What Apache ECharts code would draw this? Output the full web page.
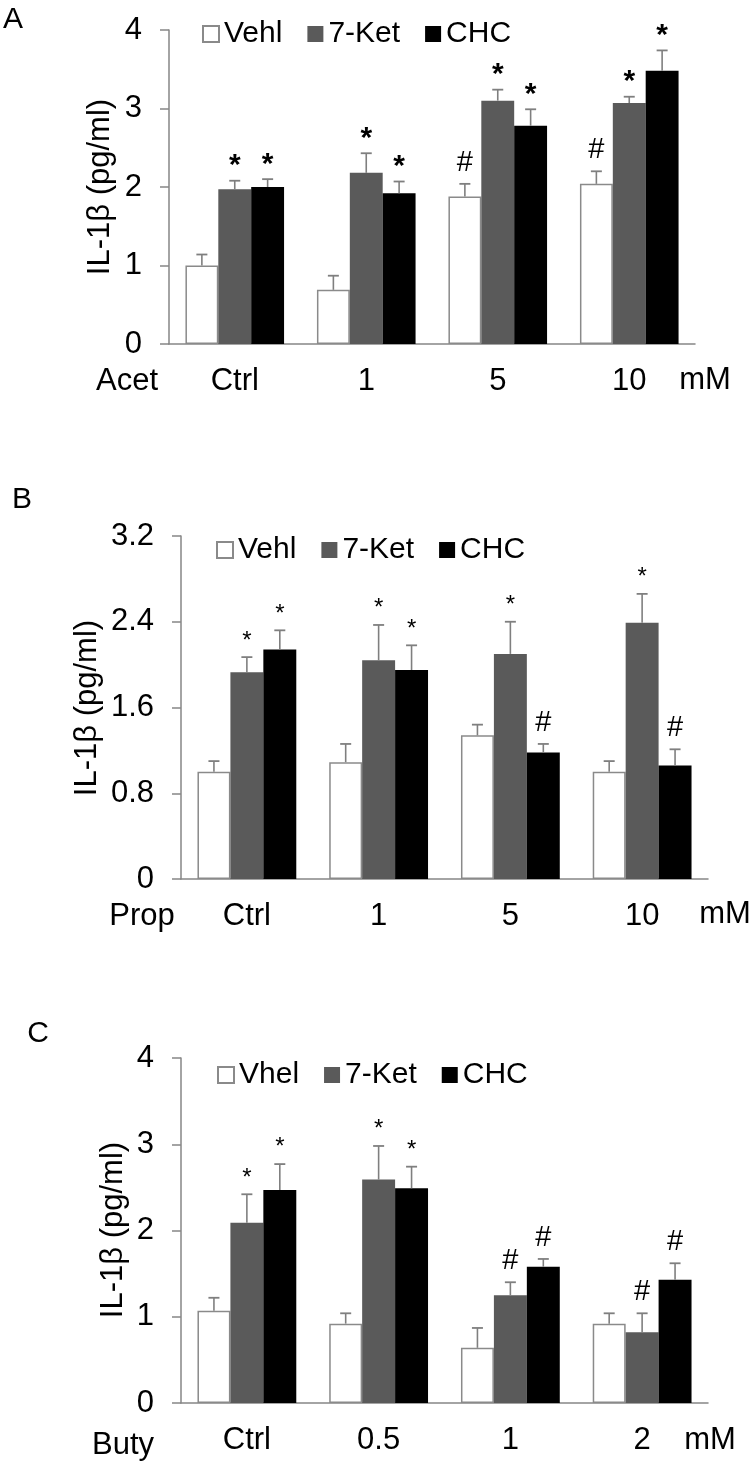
<!DOCTYPE html>
<html><head><meta charset="utf-8">
<script src="https://cdn.jsdelivr.net/npm/echarts@6/dist/echarts.min.js"></script>
<style>html,body{margin:0;padding:0;background:#fff}#c{width:750px;height:1464px}</style>
</head><body><div id="c"></div>
<script>
// ---- Panel A (Acet) ----
const catsA = ['Ctrl', '1', '5', '10'];
const vehlA = [1.00, 0.69, 1.88, 2.04];
const vehlAErr = [0.14, 0.18, 0.16, 0.16];
const vehlASig = ['', '', '#', '#'];
const ketA = [1.97, 2.18, 3.10, 3.07];
const ketAErr = [0.11, 0.25, 0.14, 0.08];
const ketASig = ['*', '*', '*', '*'];
const chcA = [2.00, 1.92, 2.78, 3.48];
const chcAErr = [0.10, 0.15, 0.21, 0.26];
const chcASig = ['*', '*', '*', '*'];
const ticksA = [0, 1, 2, 3, 4];

// ---- Panel B (Prop) ----
const catsB = ['Ctrl', '1', '5', '10'];
const vehlB = [1.00, 1.09, 1.34, 1.00];
const vehlBErr = [0.10, 0.17, 0.10, 0.10];
const vehlBSig = ['', '', '', ''];
const ketB = [1.93, 2.04, 2.10, 2.39];
const ketBErr = [0.14, 0.33, 0.30, 0.27];
const ketBSig = ['*', '*', '*', '*'];
const chcB = [2.14, 1.95, 1.18, 1.06];
const chcBErr = [0.18, 0.23, 0.08, 0.15];
const chcBSig = ['*', '*', '#', '#'];
const ticksB = [0, 0.8, 1.6, 2.4, 3.2];

// ---- Panel C (Buty) ----
const catsC = ['Ctrl', '0.5', '1', '2'];
const vehlC = [1.07, 0.92, 0.64, 0.92];
const vehlCErr = [0.15, 0.12, 0.23, 0.12];
const vehlCSig = ['', '', '', ''];
const ketC = [2.09, 2.59, 1.25, 0.82];
const ketCErr = [0.33, 0.39, 0.15, 0.22];
const ketCSig = ['*', '*', '#', '#'];
const chcC = [2.47, 2.49, 1.58, 1.43];
const chcCErr = [0.30, 0.25, 0.09, 0.19];
const chcCSig = ['*', '*', '#', '#'];
const ticksC = [0, 1, 2, 3, 4];

const legendA = ['Vehl', '7-Ket', 'CHC'];
const legendB = ['Vehl', '7-Ket', 'CHC'];
const legendC = ['Vhel', '7-Ket', 'CHC'];

const FONT = '"Liberation Sans", Arial, Helvetica, sans-serif';
const AX = '#868686';
const ERR = '#7f7f7f';
const COLORS = ['#ffffff', '#5a5a5a', '#000000'];

const chart = echarts.init(document.getElementById('c'));

const grids = [
  {left: 169, top: 30, width: 526, height: 314},
  {left: 181, top: 536, width: 527, height: 343},
  {left: 181, top: 1058, width: 527, height: 345}
];
const cats = [catsA, catsB, catsC];
const ticks = [ticksA, ticksB, ticksC];
const starSize = [30, 24, 24];

function xAxisFor(gi) {
  return {
    type: 'category', gridIndex: gi, data: cats[gi],
    axisLine: {lineStyle: {color: AX, width: 1.5}},
    axisTick: {show: false},
    axisLabel: {fontSize: 31, fontFamily: FONT, color: '#000', margin: 37, verticalAlign: 'middle'}
  };
}
function yAxisFor(gi) {
  const t = ticks[gi];
  return {
    type: 'value', gridIndex: gi, min: t[0], max: t[t.length - 1], interval: t[1] - t[0],
    axisLine: {show: true, lineStyle: {color: AX, width: 1.5}},
    axisTick: {show: true, length: 9, lineStyle: {color: AX, width: 1.5}},
    splitLine: {show: false},
    axisLabel: {fontSize: 31, fontFamily: FONT, color: '#000', margin: 27,
      formatter: v => String(Math.round(v * 10) / 10)}
  };
}
function bar(name, data, gi, k) {
  return {
    type: 'bar', name, data, xAxisIndex: gi, yAxisIndex: gi,
    barGap: '0%', barCategoryGap: '25%', silent: true,
    itemStyle: k === 0 ? {color: COLORS[0], borderColor: '#8a8a8a', borderWidth: 1.5}
                       : {color: COLORS[k], borderColor: COLORS[k], borderWidth: 0}
  };
}
function err(gi, k, vals, errs, sigs) {
  return {
    type: 'custom', xAxisIndex: gi, yAxisIndex: gi, z: 5, silent: true,
    data: vals.map((v, i) => [i, v, errs[i]]),
    renderItem: (params, api) => {
      const i = api.value(0), v = api.value(1), e = api.value(2);
      const band = api.size([1, 0])[0];
      const bw = band * 0.75 / 3;
      const p0 = api.coord([i, v]);
      const x = p0[0] + (k - 1) * bw;
      const yTop = api.coord([i, v + e])[1];
      const children = [
        {type: 'line', shape: {x1: x, y1: p0[1], x2: x, y2: yTop}, style: {stroke: ERR, lineWidth: 1.6}},
        {type: 'line', shape: {x1: x - 5.5, y1: yTop, x2: x + 5.5, y2: yTop}, style: {stroke: ERR, lineWidth: 1.8}}
      ];
      const s = sigs[params.dataIndex];
      if (s) {
        const isStar = s === '*';
        const fs = isStar ? starSize[gi] : 29;
        const target = yTop - 22;
        const y = isStar ? target + 0.24 * fs : target + 1;
        children.push({type: 'text', style: {text: s, x: x, y: y, fill: '#000',
          font: (isStar && gi === 0 ? 'bold ' : '') + fs + 'px ' + FONT, align: 'center', verticalAlign: 'middle'}});
      }
      return {type: 'group', children};
    }
  };
}

const series = [
  bar(legendA[0], vehlA, 0, 0), bar(legendA[1], ketA, 0, 1), bar(legendA[2], chcA, 0, 2),
  bar(legendB[0], vehlB, 1, 0), bar(legendB[1], ketB, 1, 1), bar(legendB[2], chcB, 1, 2),
  bar(legendC[0], vehlC, 2, 0), bar(legendC[1], ketC, 2, 1), bar(legendC[2], chcC, 2, 2),
  err(0, 0, vehlA, vehlAErr, vehlASig), err(0, 1, ketA, ketAErr, ketASig), err(0, 2, chcA, chcAErr, chcASig),
  err(1, 0, vehlB, vehlBErr, vehlBSig), err(1, 1, ketB, ketBErr, ketBSig), err(1, 2, chcB, chcBErr, chcBSig),
  err(2, 0, vehlC, vehlCErr, vehlCSig), err(2, 1, ketC, ketCErr, ketCSig), err(2, 2, chcC, chcCErr, chcCSig)
];

function legendFor(names, left, top) {
  return {
    data: names, left, top, orient: 'horizontal', padding: 0,
    icon: 'rect', itemWidth: 16, itemHeight: 16, itemGap: 25, selectedMode: false,
    textStyle: {fontSize: 30, fontFamily: FONT, color: '#000'}
  };
}

function txt(text, x, y, size, rot) {
  return {type: 'text', x, y, rotation: rot || 0, silent: true,
    style: {text, font: size + 'px ' + FONT, fill: '#000', align: 'center', verticalAlign: 'middle'}};
}

const graphics = [
  txt('A', 13, 20, 30), txt('B', 22, 500, 30), txt('C', 38, 1034, 30),
  txt('IL-1β (pg/ml)', 100, 187, 31, Math.PI / 2),
  txt('IL-1β (pg/ml)', 87, 708, 31, Math.PI / 2),
  txt('IL-1β (pg/ml)', 113, 1230, 31, Math.PI / 2),
  txt('Acet', 127, 381, 31), txt('mM', 705, 380, 31),
  txt('Prop', 142, 916, 31), txt('mM', 725, 914, 31),
  txt('Buty', 123, 1445, 31), txt('mM', 710, 1440, 31)
];

chart.setOption({
  animation: false,
  backgroundColor: '#fff',
  grid: grids,
  xAxis: [xAxisFor(0), xAxisFor(1), xAxisFor(2)],
  yAxis: [yAxisFor(0), yAxisFor(1), yAxisFor(2)],
  legend: [legendFor(legendA, 202, 19), legendFor(legendB, 216, 535), legendFor(legendC, 217, 1060)],
  graphic: graphics,
  series
});
</script></body></html>
